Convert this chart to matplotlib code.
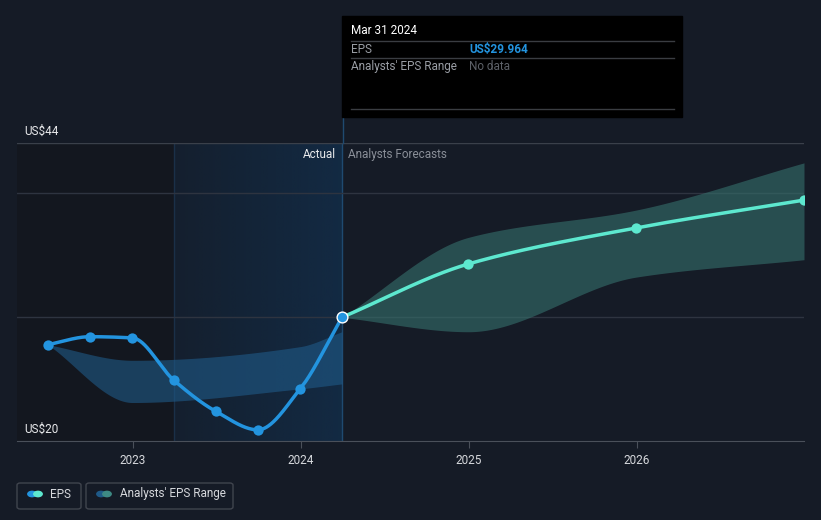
import numpy as np
import pandas as pd
import matplotlib
matplotlib.use("Agg")
import matplotlib.pyplot as plt
import matplotlib.dates as mdates
from matplotlib.patches import Rectangle, FancyBboxPatch, Circle

plt.rcParams['font.family'] = ['Roboto', 'DejaVu Sans']

# data
eps_dates = ['2022-06-30', '2022-09-30', '2022-12-31', '2023-03-31',
             '2023-06-30', '2023-09-30', '2023-12-31', '2024-03-31']
eps_vals = [27.76, 28.4, 28.3, 24.9, 22.4, 20.9, 24.2, 29.964]

past_rng_dates = ['2022-06-30', '2022-12-31', '2023-12-31', '2024-03-31']
past_rng_hi = [27.76, 26.5, 27.6, 28.8]
past_rng_lo = [27.76, 23.1, 24.2, 24.6]

fc_dates = ['2024-03-31', '2024-12-31', '2025-12-31', '2026-12-31']
fc_vals = [29.964, 34.26, 37.16, 39.4]
fc_hi = [29.964, 36.4, 38.6, 42.4]
fc_lo = [29.964, 28.8, 33.2, 34.6]

year_ticks = ['2023', '2024', '2025', '2026']

BG = '#151b26'
BLUE = '#2394df'
TEAL = '#5de8cf'
W, H = 821, 520
FS = 8.5


def monotone(x, y, n=200):
    # d3-style monotone cubic curve between the points
    x = np.asarray(x, float); y = np.asarray(y, float)
    h = np.diff(x); d = np.diff(y) / h
    m = np.zeros_like(y)
    m[0], m[-1] = d[0], d[-1]
    for i in range(1, len(y) - 1):
        if d[i - 1] * d[i] <= 0:
            m[i] = 0
        else:
            w1 = 2 * h[i] + h[i - 1]; w2 = h[i] + 2 * h[i - 1]
            m[i] = (w1 + w2) / (w1 / d[i - 1] + w2 / d[i])
    xs, ys = [], []
    for i in range(len(h)):
        t = np.linspace(0, 1, n)
        h00 = 2*t**3 - 3*t**2 + 1; h10 = t**3 - 2*t**2 + t
        h01 = -2*t**3 + 3*t**2; h11 = t**3 - t**2
        xs.append(x[i] + t * h[i])
        ys.append(h00*y[i] + h10*h[i]*m[i] + h01*y[i+1] + h11*h[i]*m[i+1])
    return np.concatenate(xs), np.concatenate(ys)


def num(ds):
    return mdates.date2num(pd.to_datetime(ds))


fig = plt.figure(figsize=(W / 100, H / 100), dpi=100, facecolor=BG)
ax = fig.add_axes([17 / W, 1 - 441 / H, (804 - 17) / W, (441 - 143) / H])
ax.set_facecolor(BG)
x0, x1 = num(['2022-04-24', '2026-12-31'])
ax.set_xlim(x0, x1)
ax.set_ylim(20, 44)

xa, xb, xc = num(['2022-04-24', '2023-03-31', '2024-03-31'])
# darker past region and blue "actual" band
ax.add_patch(Rectangle((xa, 20), xb - xa, 24, color='#13171f', zorder=0, lw=0))
grad = np.zeros((1, 256, 4))
grad[..., :3] = matplotlib.colors.to_rgb('#123150')
grad[..., 3] = np.linspace(0.2, 0.7, 256)
ax.imshow(grad, extent=(xb, xc, 20, 44), aspect='auto', zorder=0.5, interpolation='bilinear')
ax.axvline(xb, color='#1a3048', lw=1, zorder=0.6)
ax.axvline(xc, color='#1f4a70', lw=1, zorder=0.6)

for v in [30, 40]:
    ax.axhline(v, color='#2e3440', lw=1, zorder=1)
ax.axhline(44, color='#3a404a', lw=1, zorder=1)

# ranges
px, ph = monotone(num(past_rng_dates), past_rng_hi)
_, pl = monotone(num(past_rng_dates), past_rng_lo)
ax.fill_between(px, pl, ph, color='#1f5a88', alpha=0.6, lw=0, zorder=2)
fx, fh = monotone(num(fc_dates), fc_hi)
_, fl = monotone(num(fc_dates), fc_lo)
ax.fill_between(fx, fl, fh, color='#36716d', alpha=0.6, lw=0, zorder=2)

# lines
ex, ey = monotone(num(eps_dates), eps_vals)
ax.plot(ex, ey, color=BLUE, lw=2.5, zorder=4, solid_capstyle='round')
ax.scatter(num(eps_dates[:-1]), eps_vals[:-1], s=55, color=BLUE, zorder=5, lw=0)
gx, gy = monotone(num(fc_dates), fc_vals)
ax.plot(gx, gy, color=TEAL, lw=2.5, zorder=4)
ax.scatter(num(fc_dates[1:]), fc_vals[1:], s=55, color=TEAL, zorder=5, lw=0)
ax.scatter(num(eps_dates[-1:]), eps_vals[-1:], s=60, color=BLUE, edgecolor='white',
           lw=1, zorder=6)

for s in ['top', 'right', 'left']:
    ax.spines[s].set_visible(False)
ax.spines['bottom'].set_color('#4a505a')
ax.set_yticks([])
ax.set_xticks(num([y + '-01-01' for y in year_ticks]))
ax.set_xticklabels(year_ticks)
ax.tick_params(axis='x', colors='#4a505a', labelcolor='#d6d8dc', length=5, labelsize=FS, pad=4)

ax.text(0.009, 44.45, 'US$44', transform=ax.get_yaxis_transform(), color='#e8e9eb',
        fontsize=FS, va='bottom', ha='left')
ax.text(0.009, 20.45, 'US$20', transform=ax.get_yaxis_transform(), color='#e8e9eb',
        fontsize=FS, va='bottom', ha='left')
ax.text(xc - 12, 43.1, 'Actual', color='#e8e9eb', fontsize=FS, ha='right', va='center')
ax.text(xc + 12, 43.1, 'Analysts Forecasts', color='#8a8f98', fontsize=FS, ha='left', va='center')


def fx_(p):
    return p / W


def fy_(p):
    return 1 - p / H


# tooltip
fig.patches.append(Rectangle((fx_(342), fy_(117)), 340 / W, 101 / H, transform=fig.transFigure,
                             color='black', zorder=10))
fig.lines.append(plt.Line2D([fx_(343), fx_(343)], [fy_(117), fy_(143)], transform=fig.transFigure,
                            color='#1f4a70', lw=1))
for yy in [41, 58, 109]:
    fig.lines.append(plt.Line2D([fx_(351), fx_(674)], [fy_(yy), fy_(yy)], transform=fig.transFigure,
                                color='#3a3d42', lw=1, zorder=11))
fig.text(fx_(351), fy_(31), 'Mar 31 2024', color='white', fontsize=FS, va='center', zorder=12)
fig.text(fx_(351), fy_(49.5), 'EPS', color='#9a9ea5', fontsize=FS, va='center', zorder=12)
fig.text(fx_(469), fy_(49.5), 'US$29.964', color=BLUE, fontsize=FS, va='center',
         fontweight='bold', zorder=12)
fig.text(fx_(351), fy_(66.5), "Analysts' EPS Range", color='#9a9ea5', fontsize=FS, va='center', zorder=12)
fig.text(fx_(469), fy_(66.5), 'No data', color='#5d6168', fontsize=FS, va='center', zorder=12)

# legend
for (l, r) in [(17, 81), (86, 233)]:
    fig.patches.append(FancyBboxPatch((fx_(l), fy_(509)), (r - l) / W, 26 / H,
                                      boxstyle='round,pad=0,rounding_size=0.004',
                                      transform=fig.transFigure, facecolor=BG,
                                      edgecolor='#40454e', lw=1))
legend_dots = [(32, BLUE), (38, TEAL), (101, '#1f5a88'), (107, '#3e8a84')]
for cx, c in legend_dots:
    fig.patches.append(Circle((fx_(cx), fy_(494)), 4.2 / W, transform=fig.transFigure,
                              color=c, zorder=5))
fig.text(fx_(50), fy_(494), 'EPS', color='#d6d8dc', fontsize=FS, va='center')
fig.text(fx_(120), fy_(494), "Analysts' EPS Range", color='#d6d8dc', fontsize=FS, va='center')

fig.savefig('out.png', dpi=100, facecolor=BG)
